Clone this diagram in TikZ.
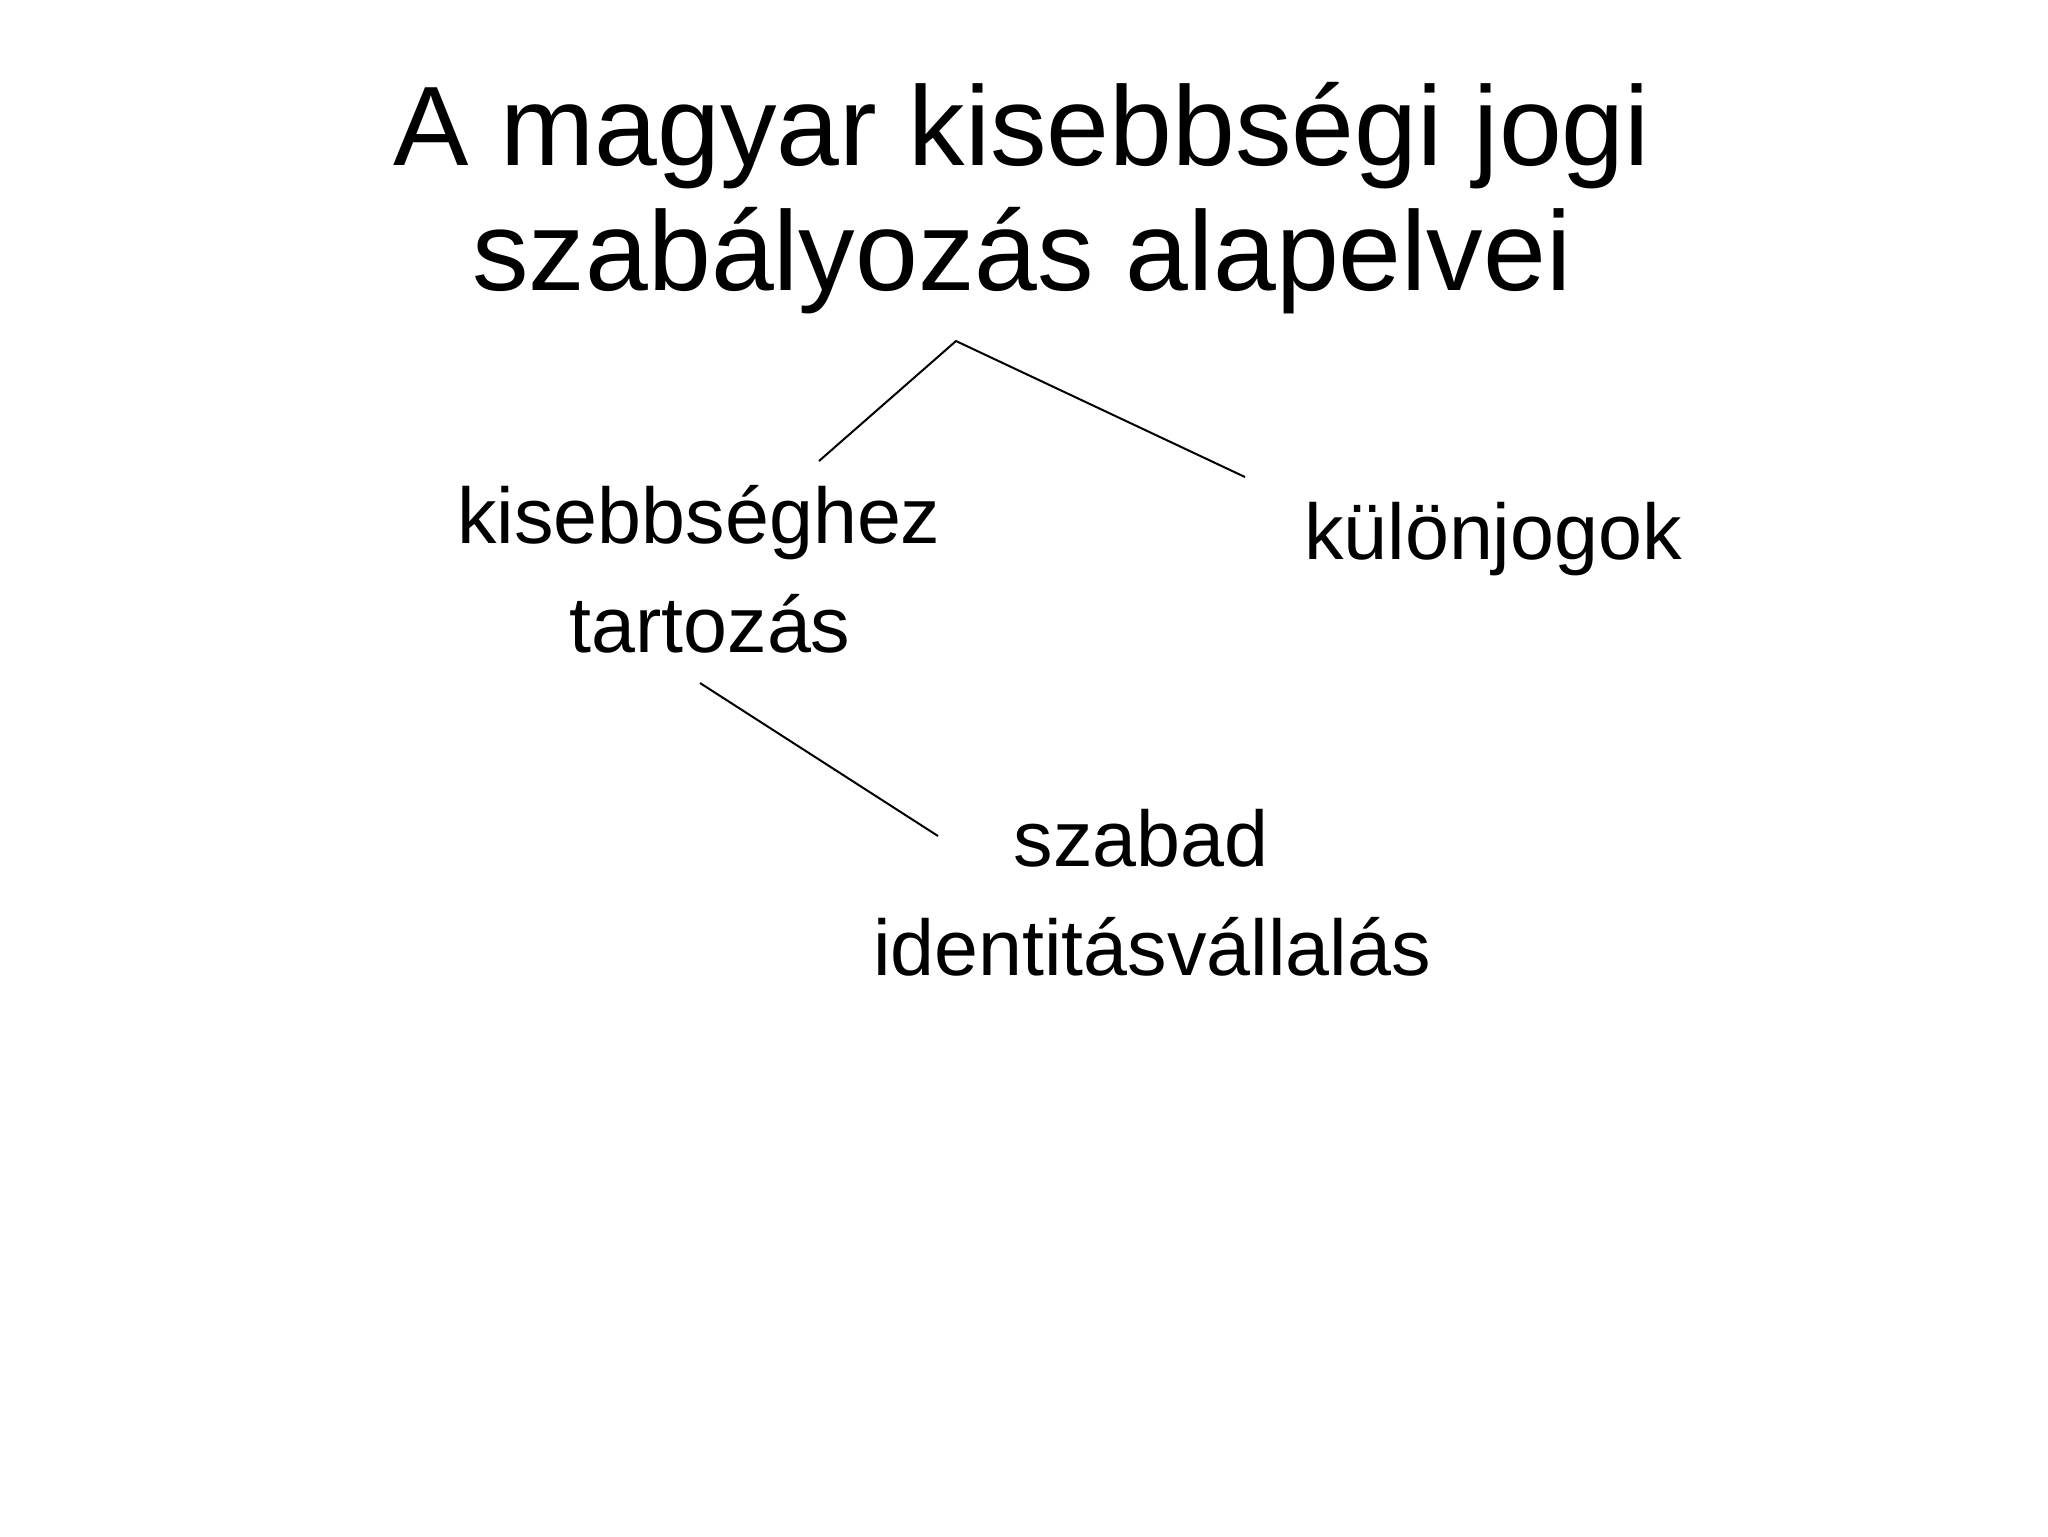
\documentclass[tikz,border=0pt]{standalone}
\usepackage{fontspec}
\setmainfont{Liberation Sans}
\begin{document}
\begin{tikzpicture}[x=0.25pt,y=-0.25pt,
  titletext/.style={inner sep=0pt,anchor=base,align=center,font=\fontsize{28.25}{31.25}\selectfont},
  bodytext/.style={inner sep=0pt,anchor=base,align=center,font=\fontsize{19.75}{27.25}\selectfont},
  link/.style={line width=0.5pt,black}]
\useasboundingbox[fill=white] (0,0) rectangle (2048,1536);
\node[titletext] (title) at (1022,290) {A magyar kisebbségi jogi\\szabályozás alapelvei};
\node[bodytext] (kis) at (703,652) {kisebbséghez\hspace*{2pt}\\\hspace*{3.5pt}tartozás};
\node[bodytext] (kul) at (1493,559) {különjogok};
\node[bodytext] (sza) at (1146,975) {szabad\hspace*{2.5pt}\\\hspace*{3pt}identitásvállalás};
\coordinate (apex) at (956,341);
\coordinate (lend) at (819,461);
\coordinate (rend) at (1245,477);
\coordinate (dtop) at (700,683);
\coordinate (dbot) at (938,836);
\draw[link] (lend) -- (apex) -- (rend);
\draw[link] (dtop) -- (dbot);
\end{tikzpicture}
\end{document}
